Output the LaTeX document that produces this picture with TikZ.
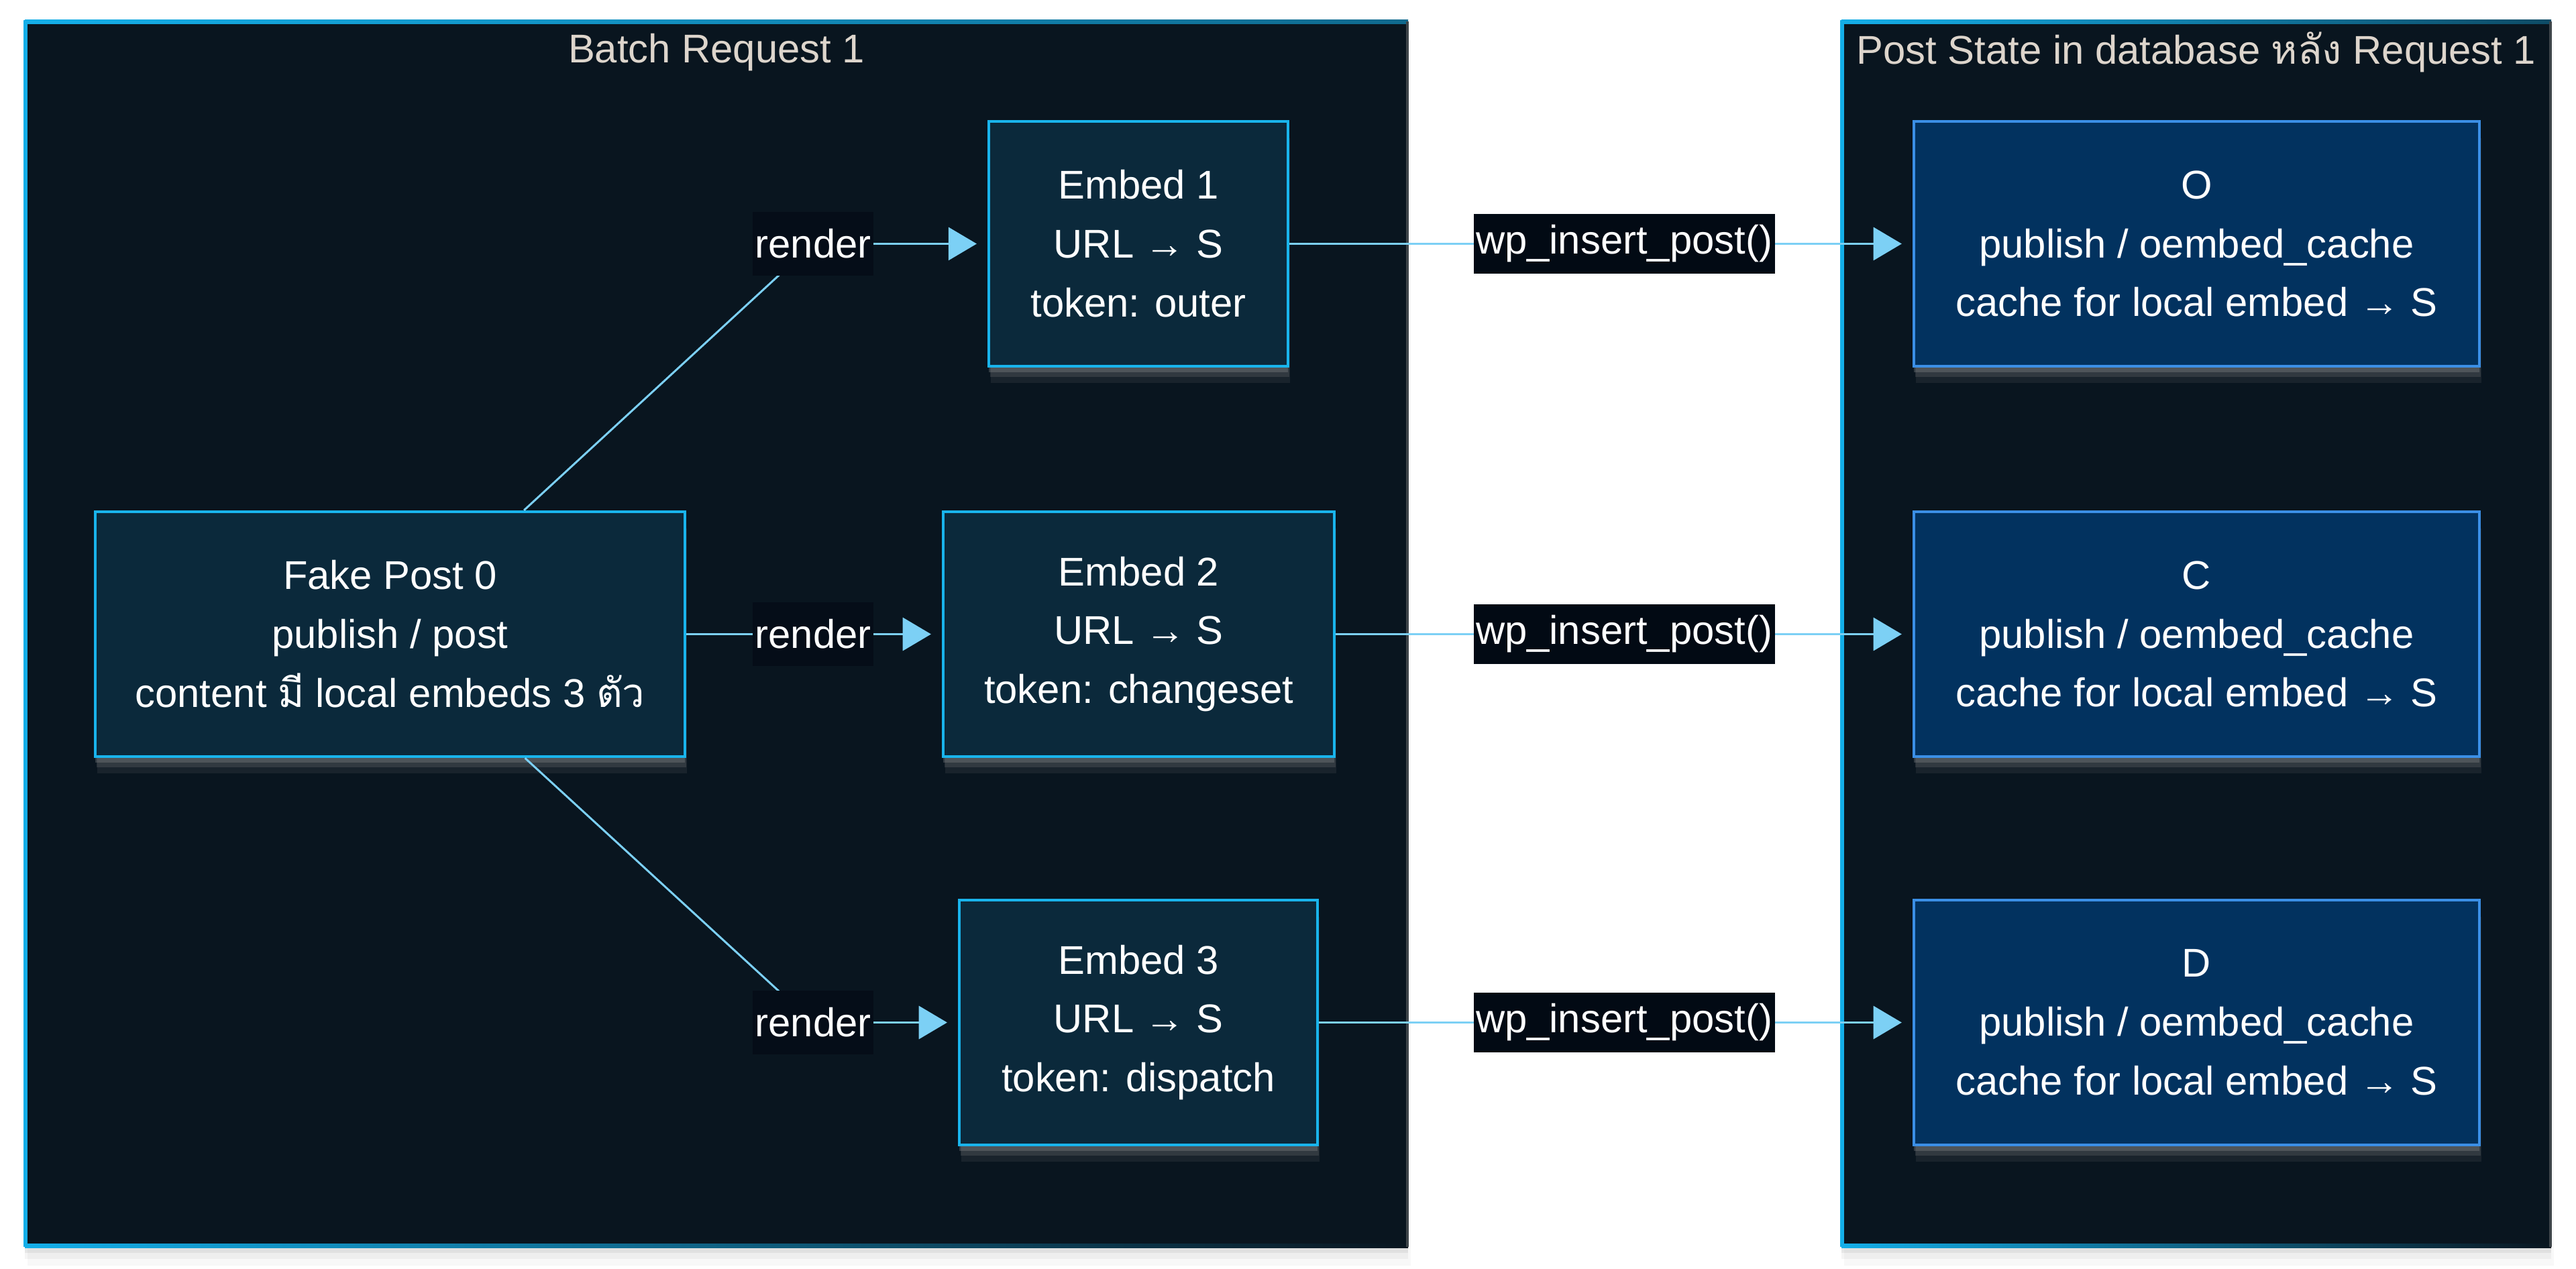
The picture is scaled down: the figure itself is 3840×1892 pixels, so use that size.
\documentclass[tikz,border=0pt]{standalone}
\usepackage{fontspec}
\setmainfont{Liberation Sans}
\newfontfamily\thaifont[Script=Thai]{Loma}
\usetikzlibrary{arrows.meta}
\definecolor{contfill}{HTML}{09151F}
\definecolor{cyanb}{HTML}{14AEE8}
\definecolor{embfill}{HTML}{0B293B}
\definecolor{embborder}{HTML}{19B4EC}
\definecolor{stfill}{HTML}{02325F}
\definecolor{stborder}{HTML}{3B8FE6}
\definecolor{linec}{HTML}{7CD0F5}
\definecolor{lblbg}{HTML}{050D18}
\definecolor{wpbg}{HTML}{020A14}
\definecolor{titlec}{HTML}{DDD5CC}
\newcommand{\nodefont}{\fontsize{17}{25}\selectfont}
\tikzset{
  boxglow/.style={
    preaction={fill=gray!70, opacity=0.10, transform canvas={yshift=-7pt, xshift=0.8pt}},
    preaction={fill=gray!75, opacity=0.18, transform canvas={yshift=-4.5pt, xshift=0.5pt}},
    preaction={fill=gray!85, opacity=0.30, transform canvas={yshift=-2.5pt}}},
  contglow/.style={
    preaction={fill=gray, opacity=0.05, transform canvas={yshift=-8pt, xshift=1pt}},
    preaction={fill=gray, opacity=0.08, transform canvas={yshift=-5pt}},
    preaction={fill=gray, opacity=0.12, transform canvas={yshift=-2.5pt}}},
  embbox/.style={draw=embborder, fill=embfill, line width=1.2pt, minimum height=3.65cm, align=center, text=white, font=\nodefont, boxglow},
  stbox/.style={draw=stborder, fill=stfill, line width=1.2pt, minimum height=3.65cm, minimum width=8.43cm, align=center, text=white, font=\nodefont, boxglow},
  conn/.style={draw=linec, line width=0.85pt},
  arr/.style={conn, -{Triangle[length=12pt, width=14pt]}, shorten >=4.5pt},
  rlbl/.style={fill=lblbg, text=white, font=\nodefont, inner xsep=1pt, minimum height=0.95cm},
  wlbl/.style={fill=wpbg, text=white, font=\nodefont, inner xsep=1pt, minimum height=0.88cm},
  ttl/.style={text=titlec, font=\nodefont}
}
\begin{document}
\begin{tikzpicture}[x=0.01cm, y=-0.01cm]
\useasboundingbox[fill=white] (0,0) rectangle (3840,1892);
% containers
\fill[contfill, contglow] (37,32) rectangle (2099,1859);
\fill[contfill, contglow] (2745,32) rectangle (3803,1859);
% borders of left container
\shade[left color=cyanb, right color=cyanb!55!contfill] (37,30) rectangle (2099,36);
\fill[cyanb] (35,30) rectangle (41,1859);
\shade[left color=cyanb, right color=contfill] (37,1854) rectangle (2099,1860);
\fill[gray!45!contfill] (2096,32) rectangle (2100,1859);
% borders of right container
\shade[left color=cyanb, right color=cyanb!35!contfill] (2745,30) rectangle (3803,36);
\fill[cyanb] (2743,30) rectangle (2749,1859);
\shade[left color=cyanb, right color=contfill] (2745,1854) rectangle (3803,1860);
\fill[gray!45!contfill] (3800,32) rectangle (3804,1859);
% titles
\node[ttl] (t1) at (1068,78) {Batch Request 1};
\node[ttl] (t2) at (3274,78) {Post State in database {\thaifont หลัง} Request 1};
% boxes
\node[embbox, minimum width=8.79cm] (fp) at (581.5,945.5) {Fake Post 0\\publish / post\\content {\thaifont มี} local embeds 3 {\thaifont ตัว}};
\node[embbox, minimum width=4.46cm] (e1) at (1697,363.5) {Embed 1\\URL → S\\token: outer};
\node[embbox, minimum width=5.83cm] (e2) at (1697.5,945.5) {Embed 2\\URL → S\\token: changeset};
\node[embbox, minimum width=5.34cm] (e3) at (1697,1524.5) {Embed 3\\URL → S\\token: dispatch};
\node[stbox] (so) at (3274.5,363.5) {O\\publish / oembed\_cache\\cache for local embed → S};
\node[stbox] (sc) at (3274.5,945.5) {C\\publish / oembed\_cache\\cache for local embed → S};
\node[stbox] (sd) at (3274.5,1524.5) {D\\publish / oembed\_cache\\cache for local embed → S};
% label anchors
\coordinate (c1) at (1212,363.5);
\coordinate (c2) at (1212,945.5);
\coordinate (c3) at (1212,1524.5);
% connectors
\draw[conn] (fp) -- (c1);
\draw[arr] (c1) -- (e1);
\draw[conn] (fp) -- (c2);
\draw[arr] (c2) -- (e2);
\draw[conn] (fp) -- (c3);
\draw[arr] (c3) -- (e3);
\draw[arr] (e1) -- (so);
\draw[arr] (e2) -- (sc);
\draw[arr] (e3) -- (sd);
% labels
\node[rlbl] (r1) at (c1) {render};
\node[rlbl] (r2) at (c2) {render};
\node[rlbl] (r3) at (c3) {render};
\node[wlbl] (w1) at (2421,363.5) {wp\_insert\_post()};
\node[wlbl] (w2) at (2421,945.5) {wp\_insert\_post()};
\node[wlbl] (w3) at (2421,1524.5) {wp\_insert\_post()};
\end{tikzpicture}
\end{document}
